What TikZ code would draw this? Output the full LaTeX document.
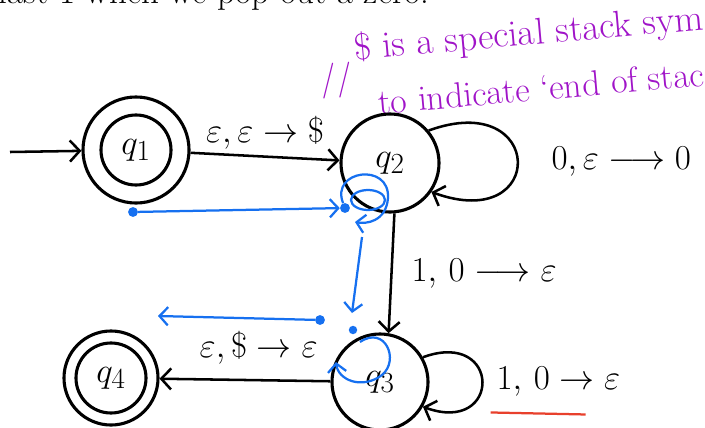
\documentclass[tikz,border=0pt]{standalone}
\usepackage{tikz}
\usetikzlibrary{shapes, arrows.meta, positioning, calc}
\definecolor{penblue}{RGB}{22, 112, 240}
\definecolor{penpurple}{RGB}{160, 20, 200}
\definecolor{penred}{RGB}{232, 64, 44}
\usepackage{amsmath, amssymb}

\begin{document}
\begin{tikzpicture}[x=0.025cm, y=-0.025cm,
  state/.style={draw, circle, line width=2.2pt, inner sep=0pt, minimum size=2.45cm, font=\Huge},
  ring/.style={draw, circle, line width=2.2pt, inner sep=0pt, minimum size=1.75cm, font=\Huge},
  edge/.style={line width=1.8pt, -{Straight Barb[length=7pt, width=15pt]}},
  lbl/.style={font=\Huge},
  trace/.style={draw=penblue, line width=1.6pt, -{Straight Barb[length=6pt, width=13pt]}},
  dot/.style={fill=penblue, circle, inner sep=0pt, minimum size=7pt},
  remark/.style={text=penpurple, font=\Huge, anchor=west, rotate=5, inner sep=0pt}]
  \useasboundingbox (0,0) rectangle (705,428);
  \clip (0,0) rectangle (705,428);

  % cut-off line at the top
  \node[anchor=base west, font=\Huge] (topline) at (-6,3) {last 1 when we pop out a zero.};

  % remark on the stack symbol
  \node[remark] (slashes) at (320,82) {//};
  \node[remark, scale=1.07] (remark1) at (354,50) {\$ is a special stack sym};
  \node[remark, scale=1.02] (remark2) at (378,102) {to indicate `end of stac};

  % states
  \node[state, minimum size=2.65cm] (q1) at (136,150) {};
  \node[ring] (q1in) at (q1) {$q_1$};
  \node[state] (q2) at (390,163) {$q_2$};
  \node[state, minimum size=2.4cm] (q3) at (380,382) {$q_3$};
  \node[state, minimum size=2.35cm] (q4) at (111,378) {};
  \node[ring] (q4in) at (q4) {$q_4$};
  \coordinate (start) at (10,152);

  % transitions
  \draw[edge] (start) -- (q1);
  \draw[edge] (q1) -- node[lbl, above=1pt] (t12) {$\varepsilon,\varepsilon\to\$$} (q2);
  \draw[edge] (q2.40) to[out=20, in=-20, distance=3.1cm] node[lbl, right=20pt] (t22) {$0,\varepsilon\longrightarrow 0$} (q2.-35);
  \draw[edge] (q2.-85) -- node[lbl, right=10pt] (t23) {$1,\,0\longrightarrow\varepsilon$} (q3.80);
  \draw[edge] (q3.30) to[out=20, in=-20, distance=2.1cm] node[lbl, right=6pt] (t33) {$1,\,0\to\varepsilon$} (q3.-30);
  \draw[edge] (q3) -- node[lbl, above=7pt, pos=0.42] (t34) {$\varepsilon,\$\to\varepsilon$} (q4);
  \draw[penred, line width=1.6pt] ([yshift=-7pt]t33.south west) -- ++(95,2);

  % blue trace of the run
  \node[dot] (d1) at (133,212) {};
  \node[dot] (d2) at (345,208) {};
  \draw[trace] (d1) -- (d2);
  \draw[draw=penblue, line width=1.6pt] (368,200) ellipse (17 and 10);
  \draw[trace] (d2) .. controls (330,170) and (390,162) .. (388,198) .. controls (386,222) and (366,224) .. (355,222);
  \coordinate (down1) at (362,237);
  \coordinate (down2) at (352,313);
  \draw[trace] (down1) -- (down2);
  \node[dot, minimum size=6pt] (d3) at (353,330) {};
  \node[dot] (d4) at (320,320) {};
  \coordinate (back) at (158,316);
  \draw[trace] (d4) -- (back);
  \draw[trace] (360,342) .. controls (385,325) and (400,360) .. (382,375) .. controls (362,390) and (338,380) .. (336,362);
\end{tikzpicture}
\end{document}
